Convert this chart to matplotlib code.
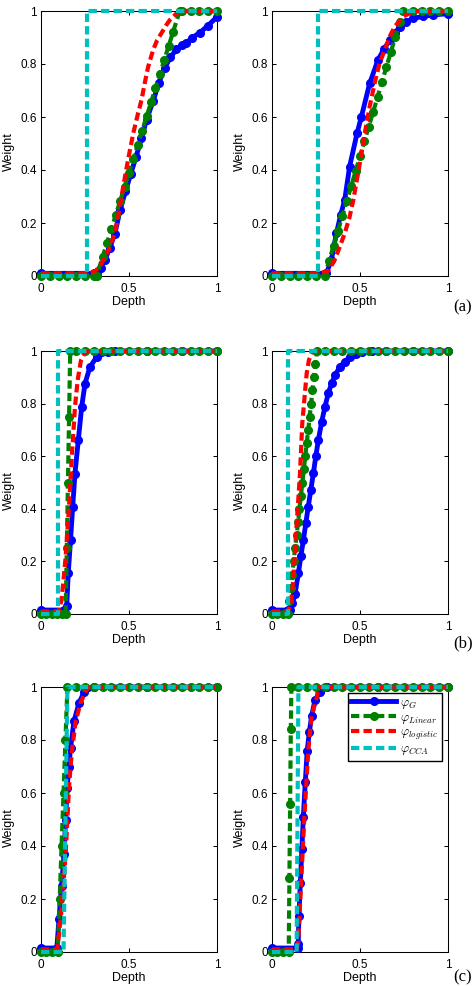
import matplotlib
matplotlib.use("Agg")
import matplotlib.pyplot as plt

plt.rcParams['font.family'] = ['Liberation Sans', 'DejaVu Sans']
plt.rcParams['mathtext.fontset'] = 'cm'

# ============
# values (x = depth, y = weight)
# ============

# --- (a) left
a1_g_x = [0, 0.3, 0.316, 0.34, 0.363, 0.39, 0.42, 0.45, 0.48, 0.51, 0.54, 0.571,
          0.60, 0.637, 0.67, 0.703, 0.735, 0.769, 0.8, 0.826, 0.86, 0.902, 0.949, 1.0]
a1_g_y = [0.01, 0.01, 0.01, 0.03, 0.06, 0.105, 0.16, 0.25, 0.32, 0.385, 0.45, 0.52,
          0.59, 0.66, 0.73, 0.785, 0.825, 0.855, 0.87, 0.88, 0.9, 0.918, 0.945, 0.978]
a1_lin_x = [0, 0.05, 0.1, 0.15, 0.2, 0.25, 0.3, 0.316, 0.35, 0.375, 0.4, 0.425, 0.45, 0.475, 0.5,
            0.525, 0.55, 0.575, 0.6, 0.625, 0.65, 0.675, 0.7, 0.725, 0.75, 0.788, 0.8, 0.85, 0.9,
            0.95, 1.0]
a1_lin_y = [0, 0, 0, 0, 0, 0, 0, 0, 0.072, 0.125, 0.178, 0.231, 0.284, 0.337, 0.39,
            0.443, 0.496, 0.549, 0.602, 0.655, 0.708, 0.761, 0.814, 0.867, 0.92, 1, 1, 1, 1,
            1, 1]
a1_log_x = [0, 0.1, 0.2, 0.278, 0.31, 0.335, 0.354, 0.385, 0.42, 0.445, 0.467, 0.495, 0.524,
            0.55, 0.571, 0.59, 0.609, 0.637, 0.66, 0.684, 0.71, 0.732, 0.769, 0.8, 0.9, 1.0]
a1_log_y = [0.01, 0.01, 0.01, 0.01, 0.02, 0.035, 0.06, 0.1, 0.161, 0.25, 0.337, 0.44, 0.538,
            0.61, 0.664, 0.73, 0.79, 0.853, 0.89, 0.916, 0.945, 0.966, 0.99, 1, 1, 1]
a1_cca_x = [0, 0.261, 0.261, 1.0]
a1_cca_y = [0, 0, 1, 1]

# --- (a) right
a2_g_x = [0, 0.309, 0.337, 0.366, 0.39, 0.413, 0.441, 0.483, 0.508, 0.555, 0.602,
          0.635, 0.669, 0.7, 0.725, 0.76, 0.801, 0.86, 0.915, 1.0]
a2_g_y = [0.01, 0.01, 0.06, 0.161, 0.23, 0.287, 0.413, 0.538, 0.601, 0.727, 0.815,
          0.855, 0.89, 0.918, 0.94, 0.958, 0.972, 0.98, 0.985, 0.99]
a2_lin_x = [0, 0.05, 0.1, 0.15, 0.2, 0.25, 0.299, 0.325, 0.35, 0.375, 0.4, 0.425, 0.45, 0.475,
            0.5, 0.525, 0.55, 0.575, 0.6, 0.625, 0.65, 0.675, 0.7, 0.725, 0.744, 0.8, 0.85,
            0.9, 0.95, 1.0]
a2_lin_y = [0, 0, 0, 0, 0, 0, 0, 0.058, 0.115, 0.171, 0.227, 0.283, 0.339, 0.396,
            0.452, 0.508, 0.564, 0.62, 0.676, 0.733, 0.789, 0.845, 0.901, 0.957, 1, 1, 1,
            1, 1, 1]
a2_log_x = [0, 0.1, 0.2, 0.27, 0.32, 0.356, 0.385, 0.413, 0.44, 0.462, 0.495, 0.527, 0.555,
            0.583, 0.61, 0.64, 0.67, 0.697, 0.744, 0.782, 0.8, 0.9, 1.0]
a2_log_y = [0.01, 0.01, 0.01, 0.01, 0.02, 0.06, 0.11, 0.161, 0.22, 0.287, 0.41, 0.538, 0.64,
            0.727, 0.8, 0.853, 0.905, 0.941, 0.979, 0.991, 1, 1, 1]
a2_cca_x = [0, 0.261, 0.261, 1.0]
a2_cca_y = [0, 0, 1, 1]

# --- (b) left
b1_g_x = [0, 0.13, 0.146, 0.155, 0.168, 0.18, 0.193, 0.212, 0.231, 0.25, 0.278,
          0.316, 0.383, 0.42, 0.6, 0.8, 1.0]
b1_g_y = [0.015, 0.015, 0.03, 0.156, 0.283, 0.407, 0.534, 0.661, 0.787, 0.876,
          0.939, 0.977, 0.996, 1, 1, 1, 1]
b1_lin_x = [0, 0.03, 0.06, 0.09, 0.12, 0.14, 0.1465, 0.153, 0.1595, 0.166, 0.2, 0.25, 0.3,
            0.35, 0.4, 0.45, 0.5, 0.55, 0.6, 0.65, 0.7, 0.75, 0.8, 0.85, 0.9, 0.95, 1.0]
b1_lin_y = [0, 0, 0, 0, 0, 0, 0.25, 0.5, 0.75, 1, 1, 1, 1,
            1, 1, 1, 1, 1, 1, 1, 1, 1, 1, 1, 1, 1, 1]
b1_log_x = [0, 0.05, 0.1, 0.117, 0.14, 0.159, 0.175, 0.193, 0.208, 0.227, 0.25, 0.28, 1.0]
b1_log_y = [0.01, 0.01, 0.01, 0.053, 0.217, 0.407, 0.597, 0.787, 0.888, 0.964, 0.995, 1, 1]
b1_cca_x = [0, 0.095, 0.095, 1.0]
b1_cca_y = [0, 0, 1, 1]

# --- (b) right
b2_g_x = [0, 0.09, 0.102, 0.115, 0.131, 0.15, 0.164, 0.178, 0.192, 0.206, 0.22, 0.235,
          0.249, 0.263, 0.282, 0.301, 0.32, 0.339, 0.36, 0.386, 0.415, 0.443, 0.48, 0.509,
          0.566, 0.65, 0.8, 1.0]
b2_g_y = [0.015, 0.015, 0.015, 0.04, 0.077, 0.155, 0.22, 0.28, 0.345, 0.408, 0.47,
          0.535, 0.6, 0.66, 0.73, 0.788, 0.84, 0.877, 0.91, 0.94, 0.96, 0.978, 0.99, 0.997,
          0.999, 1, 1, 1]
b2_lin_x = [0, 0.03, 0.06, 0.09, 0.098, 0.107, 0.115, 0.123, 0.131, 0.14, 0.148, 0.156, 0.164,
            0.173, 0.181, 0.189, 0.197, 0.206, 0.214, 0.222, 0.23, 0.239, 0.247, 0.255, 0.3,
            0.35, 0.4, 0.45, 0.5, 0.55, 0.6, 0.65, 0.7, 0.75, 0.8, 0.85, 0.9, 0.95, 1.0]
b2_lin_y = [0, 0, 0, 0, 0.05, 0.1, 0.15, 0.2, 0.25, 0.3, 0.35, 0.4, 0.45,
            0.5, 0.55, 0.6, 0.65, 0.7, 0.75, 0.8, 0.85, 0.9, 0.95, 1, 1,
            1, 1, 1, 1, 1, 1, 1, 1, 1, 1, 1, 1, 1, 1]
b2_log_x = [0, 0.05, 0.09, 0.108, 0.121, 0.134, 0.147, 0.159, 0.172, 0.187, 0.197, 0.21,
            0.225, 0.244, 1.0]
b2_log_y = [0.01, 0.01, 0.01, 0.04, 0.13, 0.28, 0.41, 0.535, 0.725, 0.84, 0.915, 0.966,
            0.99, 1, 1]
b2_cca_x = [0, 0.093, 0.093, 1.0]
b2_cca_y = [0, 0, 1, 1]

# --- (c) left
c1_g_x = [0, 0.09, 0.102, 0.117, 0.131, 0.14, 0.149, 0.158, 0.168, 0.187, 0.216,
          0.244, 0.3, 0.6, 1.0]
c1_g_y = [0.015, 0.015, 0.124, 0.25, 0.37, 0.5, 0.62, 0.7, 0.77, 0.87, 0.94,
          0.98, 1, 1, 1]
c1_lin_x = [0, 0.03, 0.06, 0.095, 0.106, 0.117, 0.128, 0.139, 0.15, 0.2, 0.25, 0.3, 0.35,
            0.4, 0.45, 0.5, 0.55, 0.6, 0.65, 0.7, 0.75, 0.8, 0.85, 0.9, 0.95, 1.0]
c1_lin_y = [0, 0, 0, 0, 0.2, 0.4, 0.6, 0.8, 1, 1, 1, 1, 1,
            1, 1, 1, 1, 1, 1, 1, 1, 1, 1, 1, 1, 1]
c1_log_x = [0, 0.05, 0.085, 0.093, 0.112, 0.127, 0.14, 0.15, 0.159, 0.168, 0.178, 0.197,
            0.225, 0.254, 0.27, 1.0]
c1_log_y = [0.01, 0.01, 0.01, 0.014, 0.124, 0.25, 0.37, 0.5, 0.62, 0.7, 0.77, 0.87,
            0.94, 0.985, 1, 1]
c1_cca_x = [0, 0.128, 0.15, 1.0]
c1_cca_y = [0, 0, 1, 1]

# --- (c) right
c2_g_x = [0, 0.145, 0.149, 0.153, 0.161, 0.17, 0.178, 0.189, 0.2, 0.212, 0.225,
          0.244, 0.272, 0.31, 0.6, 1.0]
c2_g_y = [0.015, 0.015, 0.03, 0.135, 0.26, 0.39, 0.51, 0.64, 0.76, 0.83,
          0.89, 0.95, 0.98, 1, 1, 1]
c2_lin_x = [0, 0.03, 0.06, 0.095, 0.099, 0.103, 0.107, 0.11, 0.15, 0.2, 0.25, 0.3, 0.35,
            0.4, 0.45, 0.5, 0.55, 0.6, 0.65, 0.7, 0.75, 0.8, 0.85, 0.9, 0.95, 1.0]
c2_lin_y = [0, 0, 0, 0, 0.28, 0.56, 0.84, 1, 1, 1, 1, 1, 1,
            1, 1, 1, 1, 1, 1, 1, 1, 1, 1, 1, 1, 1]
c2_log_x = [0, 0.05, 0.1, 0.14, 0.149, 0.165, 0.184, 0.206, 0.225, 0.254, 0.263, 1.0]
c2_log_y = [0.01, 0.01, 0.01, 0.01, 0.035, 0.26, 0.51, 0.76, 0.89, 0.96, 1, 1]
c2_cca_x = [0, 0.14, 0.15, 1.0]
c2_cca_y = [0, 0, 1, 1]

x_ticks = [0, 0.5, 1]
x_tick_labels = ['0', '0.5', '1']
y_ticks = [0, 0.2, 0.4, 0.6, 0.8, 1]
y_tick_labels = ['0', '0.2', '0.4', '0.6', '0.8', '1']
series_labels = [r'$\varphi_{G}$', r'$\varphi_{Linear}$', r'$\varphi_{logistic}$', r'$\varphi_{CCA}$']
row_labels = ['(a)', '(b)', '(c)']

panels = [
    ((a1_g_x, a1_g_y), (a1_lin_x, a1_lin_y), (a1_log_x, a1_log_y), (a1_cca_x, a1_cca_y)),
    ((a2_g_x, a2_g_y), (a2_lin_x, a2_lin_y), (a2_log_x, a2_log_y), (a2_cca_x, a2_cca_y)),
    ((b1_g_x, b1_g_y), (b1_lin_x, b1_lin_y), (b1_log_x, b1_log_y), (b1_cca_x, b1_cca_y)),
    ((b2_g_x, b2_g_y), (b2_lin_x, b2_lin_y), (b2_log_x, b2_log_y), (b2_cca_x, b2_cca_y)),
    ((c1_g_x, c1_g_y), (c1_lin_x, c1_lin_y), (c1_log_x, c1_log_y), (c1_cca_x, c1_cca_y)),
    ((c2_g_x, c2_g_y), (c2_lin_x, c2_lin_y), (c2_log_x, c2_log_y), (c2_cca_x, c2_cca_y)),
]

# ============
# styles and layout (pixels of the 477x986 image)
# ============
dash = (0, (2, 1))
styles = [
    dict(color='#0000ff', lw=3.5, ls='-', marker='o', ms=5.5),
    dict(color='#008000', lw=3.0, ls=dash, marker='o', ms=5.5),
    dict(color='#ff0000', lw=3.0, ls=dash),
    dict(color='#00bfbf', lw=3.0, ls=dash),
]

W, H = 477, 986
cols = [(41, 217), (272, 448)]
rows = [(11, 276), (351, 614), (687, 952)]
label_y = [307, 643, 977]

fig = plt.figure(figsize=(W / 100, H / 100), dpi=100)

for i_panel, curves in enumerate(panels):
    r, c = divmod(i_panel, 2)
    left, right = cols[c]
    top, bottom = rows[r]
    ax = fig.add_axes([left / W, 1 - bottom / H, (right - left) / W, (bottom - top) / H])

    lines = []
    for (xs, ys), st in zip(curves, styles):
        ln, = ax.plot(xs, ys, clip_on=False, zorder=3, **st)
        lines.append(ln)

    ax.set_xlim(0, 1)
    ax.set_ylim(0, 1)
    ax.set_xticks(x_ticks)
    ax.set_xticklabels(x_tick_labels)
    ax.set_yticks(y_ticks)
    ax.set_yticklabels(y_tick_labels)
    ax.tick_params(direction='in', length=3, width=0.75, top=True, right=True,
                   labelsize=8.5, colors='black')
    ax.tick_params(axis='x', pad=5)
    ax.tick_params(axis='y', pad=3)
    for sp in ax.spines.values():
        sp.set_linewidth(0.75)
        sp.set_color('black')

    ax.set_xlabel('Depth', fontsize=9)
    ax.set_ylabel('Weight', fontsize=9)
    ax.xaxis.set_label_coords(0.5, -0.075)
    ax.yaxis.set_label_coords(-0.15, 0.47)

    if i_panel == 5:
        leg = ax.legend(lines, series_labels, loc='upper right', bbox_to_anchor=(0.966, 0.977),
                        borderaxespad=0, fontsize=9, handlelength=3.6, handletextpad=0.3,
                        labelspacing=0.08, borderpad=0.3, fancybox=False, framealpha=1,
                        edgecolor='black')
        leg.get_frame().set_linewidth(1.0)
        leg.set_zorder(5)

for lab, yy in zip(row_labels, label_y):
    fig.text(463 / W, 1 - yy / H, lab, ha='center', va='center',
             family='Liberation Serif', fontsize=12)

fig.savefig('out.png', dpi=100)
